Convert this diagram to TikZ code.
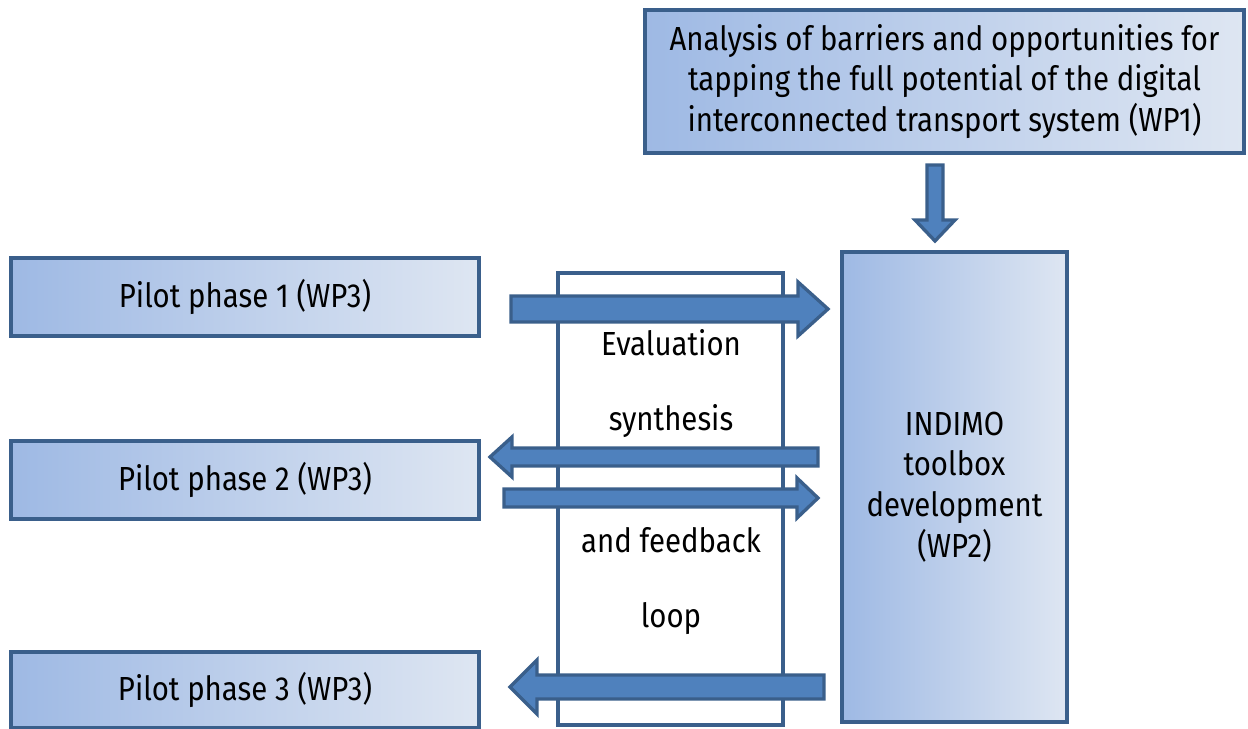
\documentclass[tikz,border=0pt]{standalone}
\usepackage{fontspec}
\setmainfont[FakeStretch=0.88]{Fira Sans}
\usepackage{tikz}
\usetikzlibrary{positioning}

\definecolor{edgeblue}{RGB}{58,95,139}
\definecolor{arrowblue}{RGB}{79,129,189}
\definecolor{shadeleft}{RGB}{158,185,228}
\definecolor{shaderight}{RGB}{222,230,242}

\tikzset{
  wpbox/.style={draw=edgeblue, line width=2.6pt, left color=shadeleft, right color=shaderight,
                align=center, inner sep=0pt, font=\fontsize{19pt}{23.2pt}\selectfont},
  loopbox/.style={draw=edgeblue, line width=2.6pt, inner sep=0pt},
  looptext/.style={font=\fontsize{19pt}{23.2pt}\selectfont},
  fatarrow/.style={draw=edgeblue, line width=1.9pt, fill=arrowblue, line join=miter},
}

\begin{document}
\begin{tikzpicture}[x=0.02cm,y=-0.02cm]
  \useasboundingbox (0,0) rectangle (1248,729);

  % work packages
  \node[wpbox, minimum width=11.98cm, minimum height=2.86cm] (wp1) at (944.5,81.5)
       {Analysis of barriers and opportunities for\\tapping the full potential of the digital\\interconnected transport system (WP1)};
  \node[wpbox, minimum width=4.5cm, minimum height=9.4cm] (wp2) at (954.5,487)
       {INDIMO\\toolbox\\development\\(WP2)};
  \node[wpbox, minimum width=9.36cm, minimum height=1.56cm] (pilot1) at (245,297) {Pilot phase 1 (WP3)};
  \node[wpbox, minimum width=9.36cm, minimum height=1.56cm] (pilot2) at (245,480) {Pilot phase 2 (WP3)};
  \node[wpbox, minimum width=9.36cm, minimum height=1.52cm] (pilot3) at (245,690) {Pilot phase 3 (WP3)};

  % evaluation loop
  \node[loopbox, minimum width=4.5cm, minimum height=9.04cm] (loop) at (670.5,499) {};
  \node[looptext] (ev1) at (671,343) {Evaluation};
  \node[looptext] (ev2) at (671,421) {synthesis};
  \node[looptext] (ev3) at (671,540) {and feedback};
  \node[looptext] (ev4) at (671,619) {loop};

  % block arrows
  \draw[fatarrow] (927,165) -- (927,220) -- (915,220) -- (935,241) -- (955,220) -- (943,220) -- (943,165) -- cycle;
  \draw[fatarrow] (511,296) -- (798,296) -- (798,282) -- (828,309) -- (798,336) -- (798,322) -- (511,322) -- cycle;
  \draw[fatarrow] (818,448) -- (512,448) -- (512,437) -- (490,457) -- (512,477) -- (512,466) -- (818,466) -- cycle;
  \draw[fatarrow] (504,489) -- (797,489) -- (797,478) -- (818,498) -- (797,518) -- (797,507) -- (504,507) -- cycle;
  \draw[fatarrow] (824,675) -- (537,675) -- (537,660) -- (510,687) -- (537,714) -- (537,699) -- (824,699) -- cycle;
\end{tikzpicture}
\end{document}
